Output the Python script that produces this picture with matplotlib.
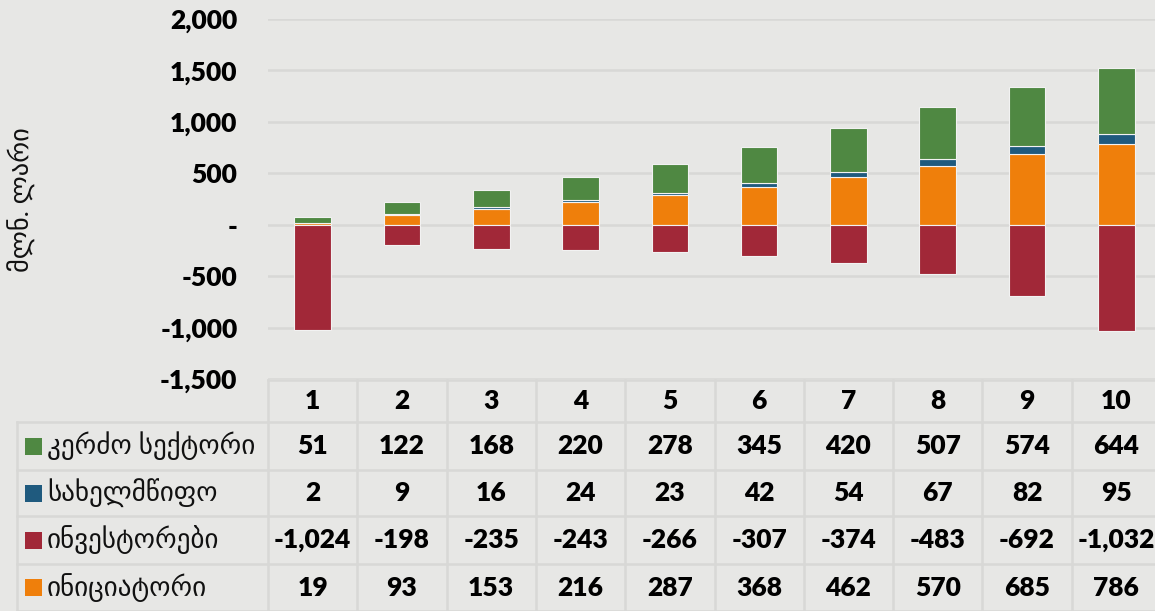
import numpy as np
import matplotlib.pyplot as plt
from matplotlib import transforms
from matplotlib.patches import Rectangle

plt.rcParams['font.family'] = ['Lato', 'DejaVu Sans']

years = ["1", "2", "3", "4", "5", "6", "7", "8", "9", "10"]
private = [51, 122, 168, 220, 278, 345, 420, 507, 574, 644]
state = [2, 9, 16, 24, 23, 42, 54, 67, 82, 95]
investors = [-1024, -198, -235, -243, -266, -307, -374, -483, -692, -1032]
initiator = [19, 93, 153, 216, 287, 368, 462, 570, 685, 786]

names = ["კერძო სექტორი", "სახელმწიფო", "ინვესტორები", "ინიციატორი"]
colors = ["#4f8842", "#1f5a7e", "#a12838", "#ef7f0b"]
table_rows = [private, state, investors, initiator]

W, H = 1155, 611
bg = "#e7e7e5"
gridc = "#d8d8d6"

fig = plt.figure(figsize=(W / 100, H / 100), dpi=100, facecolor=bg)
ax = fig.add_axes([268 / W, 1 - 379 / H, 893 / W, (379 - 19) / H])
ax.set_facecolor(bg)

x = np.arange(1, len(years) + 1)
bw = 0.41
edge = dict(edgecolor="#f2f2f2", linewidth=0.8)
ini = np.array(initiator)
st = np.array(state)
ax.bar(x, initiator, bw, color=colors[3], **edge, zorder=3)
ax.bar(x, state, bw, bottom=ini, color=colors[1], **edge, zorder=3)
ax.bar(x, private, bw, bottom=ini + st, color=colors[0], **edge, zorder=3)
ax.bar(x, investors, bw, color=colors[2], **edge, zorder=3)

ax.set_xlim(0.5, 10.5)
ax.set_ylim(-1500, 2000)
yt = np.arange(-1500, 2001, 500)
ax.set_yticks(yt)
ax.set_yticklabels(["-" if v == 0 else f"{v:,}" for v in yt],
                   fontsize=19, fontweight="heavy")
ax.tick_params(axis="y", length=0, pad=22)
ax.set_xticks([])
ax.yaxis.grid(True, color=gridc, linewidth=1.8, zorder=0)
for s in ax.spines.values():
    s.set_visible(False)

fig.text(22 / W, 1 - 200 / H, "მლნ. ლარი", rotation=90, fontsize=19,
         ha="center", va="center", color="#111111")

# data table under the bars
tr = transforms.blended_transform_factory(ax.transData, fig.transFigure)
def fy(py):
    return 1 - py / H

row_edges = [380, 422, 470, 516, 564, 611]
lw = 1.8
for i, py in enumerate(row_edges):
    fig.add_artist(plt.Line2D([0.5, 10.5], [fy(py), fy(py)], transform=tr,
                              color=gridc, linewidth=lw))
    if i >= 1:
        fig.add_artist(plt.Line2D([17 / W, 268 / W], [fy(py), fy(py)],
                                  transform=fig.transFigure, color=gridc, linewidth=lw))
for xv in np.arange(0.5, 11.0, 1.0):
    fig.add_artist(plt.Line2D([xv, xv], [fy(380), fy(611)], transform=tr,
                              color=gridc, linewidth=lw))
fig.add_artist(plt.Line2D([17 / W, 17 / W], [fy(422), fy(611)],
                          transform=fig.transFigure, color=gridc, linewidth=lw))

for i, lab in enumerate(years):
    fig.text(x[i], fy(401), lab, transform=tr, ha="center", va="center",
             fontsize=19, fontweight="heavy")

for r, (vals, name, c) in enumerate(zip(table_rows, names, colors)):
    yc = (row_edges[r + 1] + row_edges[r + 2]) / 2
    fig.add_artist(Rectangle((25 / W, fy(yc + 8.5)), 17 / W, 17 / H,
                             transform=fig.transFigure, facecolor=c, edgecolor="none"))
    fig.text(47 / W, fy(yc), name, ha="left", va="center", fontsize=19.5,
             color="#111111")
    for i, v in enumerate(vals):
        fig.text(x[i], fy(yc), f"{v:,}", transform=tr, ha="center", va="center",
                 fontsize=19, fontweight="heavy")

fig.savefig("out.png", dpi=100, facecolor=bg)
